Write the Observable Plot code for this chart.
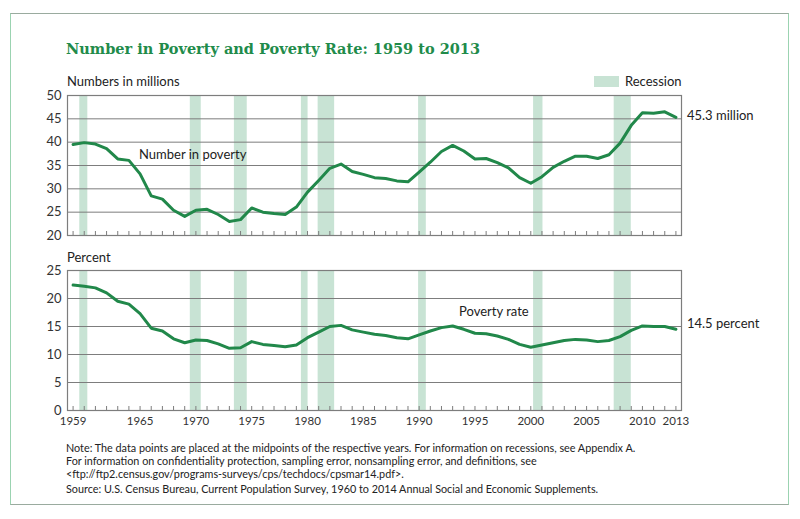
<!DOCTYPE html>
<html>
<head>
<meta charset="utf-8">
<script src="https://cdn.jsdelivr.net/npm/d3@7"></script>
<script src="https://cdn.jsdelivr.net/npm/@observablehq/plot@0.6"></script>
<style>
  html, body { margin: 0; padding: 0; background: #fff; }
  #root { position: relative; width: 800px; height: 519px; overflow: hidden; font-family: Lato, "Open Sans", sans-serif; color: #222; }
  .abs { position: absolute; white-space: nowrap; line-height: 1; z-index: 2; }
  #frame { position: absolute; left: 10px; top: 13px; width: 777px; height: 490px;
           border-top: 1.5px solid #9aab9f; border-bottom: 1.5px solid #9aab9f;
           border-left: 1.5px solid #9bd3b1; border-right: 1.5px solid #9bd3b1; }
  #title { left: 66px; top: 42px; font-family: "DejaVu Serif", serif; font-weight: bold; font-size: 14.5px; color: #218b4a; }
  .plot { position: absolute; left: 0; z-index: 1; }
  .note { left: 66px; font-size: 10.8px; color: #222; }
</style>
</head>
<body>
<div id="root">
  <div id="frame"></div>
  <div id="top" class="plot" style="top:80px;"></div>
  <div id="bottom" class="plot" style="top:255px;"></div>
  <div id="title" class="abs">Number in Poverty and Poverty Rate: 1959 to 2013</div>
  <div class="abs" style="left:67px; top:75px; font-size:13px;">Numbers in millions</div>
  <div class="abs" style="left:594px; top:76px; width:25px; height:11px; background:#c8e3d4;"></div>
  <div class="abs" style="left:625px; top:75px; font-size:13px;">Recession</div>
  <div class="abs" style="left:139px; top:148px; font-size:13px;">Number in poverty</div>
  <div class="abs" style="left:67px; top:251px; font-size:13px;">Percent</div>
  <div class="abs" style="left:459px; top:305px; font-size:13px;">Poverty rate</div>
  <div class="abs note" style="top:443px;">Note: The data points are placed at the midpoints of the respective years. For information on recessions, see Appendix A.</div>
  <div class="abs note" style="top:456px;">For information on confidentiality protection, sampling error, nonsampling error, and definitions, see</div>
  <div class="abs note" style="top:469px;">&lt;ftp://ftp2.census.gov/programs-surveys/cps/techdocs/cpsmar14.pdf&gt;.</div>
  <div class="abs note" style="top:484px;">Source: U.S. Census Bureau, Current Population Survey, 1960 to 2014 Annual Social and Economic Supplements.</div>
</div>
<script>
// ---- Data ----
const years = d3.range(1959, 2014);
const numberInPoverty = [
  39.5, 39.9, 39.6, 38.6, 36.4, 36.1, 33.2, 28.5, 27.8, 25.4, // 1959-1968
  24.1, 25.4, 25.6, 24.5, 23.0, 23.4, 25.9, 25.0, 24.7, 24.5, // 1969-1978
  26.1, 29.3, 31.8, 34.4, 35.3, 33.7, 33.1, 32.4, 32.2, 31.7, // 1979-1988
  31.5, 33.6, 35.7, 38.0, 39.3, 38.1, 36.4, 36.5, 35.6, 34.5, // 1989-1998
  32.4, 31.2, 32.6, 34.6, 35.9, 37.0, 37.0, 36.5, 37.3, 39.8, // 1999-2008
  43.6, 46.3, 46.2, 46.5, 45.3                                 // 2009-2013
];
const povertyRate = [
  22.4, 22.2, 21.9, 21.0, 19.5, 19.0, 17.3, 14.7, 14.2, 12.8,
  12.1, 12.6, 12.5, 11.9, 11.1, 11.2, 12.3, 11.8, 11.6, 11.4,
  11.7, 13.0, 14.0, 15.0, 15.2, 14.4, 14.0, 13.6, 13.4, 13.0,
  12.8, 13.5, 14.2, 14.8, 15.1, 14.5, 13.8, 13.7, 13.3, 12.7,
  11.8, 11.3, 11.7, 12.1, 12.5, 12.7, 12.6, 12.3, 12.5, 13.2,
  14.3, 15.1, 15.0, 15.0, 14.5
];
// Recession periods (on the year-midpoint axis)
const recessionStart = [1959.6, 1969.5, 1973.45, 1979.45, 1980.95, 1989.95, 2000.25, 2007.47];
const recessionEnd   = [1960.32, 1970.48, 1974.6, 1980.05, 1982.43, 1990.64, 2001.09, 2009.0];
const xTickLabels = [1959, 1965, 1970, 1975, 1980, 1985, 1990, 1995, 2000, 2005, 2010, 2013];
const numberTicks = [20, 25, 30, 35, 40, 45, 50];
const rateTicks = [0, 5, 10, 15, 20, 25];

const numberData = years.map((y, i) => ({year: y, value: numberInPoverty[i]}));
const rateData = years.map((y, i) => ({year: y, value: povertyRate[i]}));
const recessions = recessionStart.map((s, i) => ({start: s, end: recessionEnd[i]}));

const LINE = "#21884a", BAND = "#c8e3d4", GRID = "#7d7d7d";
const W = 800, ML = 67, MR = 119;
const xDomain = [1958.5, 2013.5];

function panel({data, yDomain, yTicks, height, marginBottom, labelSuffix, labelDy, showXLabels}) {
  const frameH = height - 15 - marginBottom;
  const last = data[data.length - 1];
  const marks = [
    Plot.rect(recessions, {x1: "start", x2: "end", fill: BAND}),
    Plot.ruleY(yTicks.slice(1, -1), {stroke: GRID, strokeWidth: 1}),
    Plot.frame({stroke: GRID, strokeWidth: 1.2}),
    Plot.ruleX(years, {x: d => d, insetTop: frameH - 4, stroke: GRID, strokeWidth: 1}),
    Plot.axisY({ticks: yTicks, tickSize: 0, tickPadding: 6, fontSize: 13, label: null, tickFormat: d => d}),
    Plot.lineY(data, {x: "year", y: "value", stroke: LINE, strokeWidth: 3, strokeLinejoin: "round"}),
    Plot.text([last], {x: "year", y: "value", text: d => `${d.value.toFixed(1)} ${labelSuffix}`,
      textAnchor: "start", dx: 11, dy: labelDy, fontSize: 13, fill: "#222", clip: false})
  ];
  if (showXLabels) {
    marks.push(Plot.axisX({ticks: xTickLabels, tickSize: 0, tickPadding: 6, fontSize: 11.5, label: null, tickFormat: d => String(d)}));
  } else {
    marks.push(Plot.axisX({ticks: [], label: null}));
  }
  return Plot.plot({
    width: W, height, marginLeft: ML, marginRight: MR, marginTop: 15, marginBottom,
    style: {fontFamily: "Lato, 'Open Sans', sans-serif", color: "#333", background: "transparent", overflow: "visible"},
    x: {domain: xDomain},
    y: {domain: [yDomain[0], yDomain[1]]},
    marks
  });
}

document.getElementById("top").appendChild(panel({
  data: numberData, yDomain: [20, 50], yTicks: numberTicks, height: 170, marginBottom: 15,
  labelSuffix: "million", labelDy: -2, showXLabels: false
}));
document.getElementById("bottom").appendChild(panel({
  data: rateData, yDomain: [0, 25], yTicks: rateTicks, height: 185, marginBottom: 30,
  labelSuffix: "percent", labelDy: -5, showXLabels: true
}));
</script>
</body>
</html>
